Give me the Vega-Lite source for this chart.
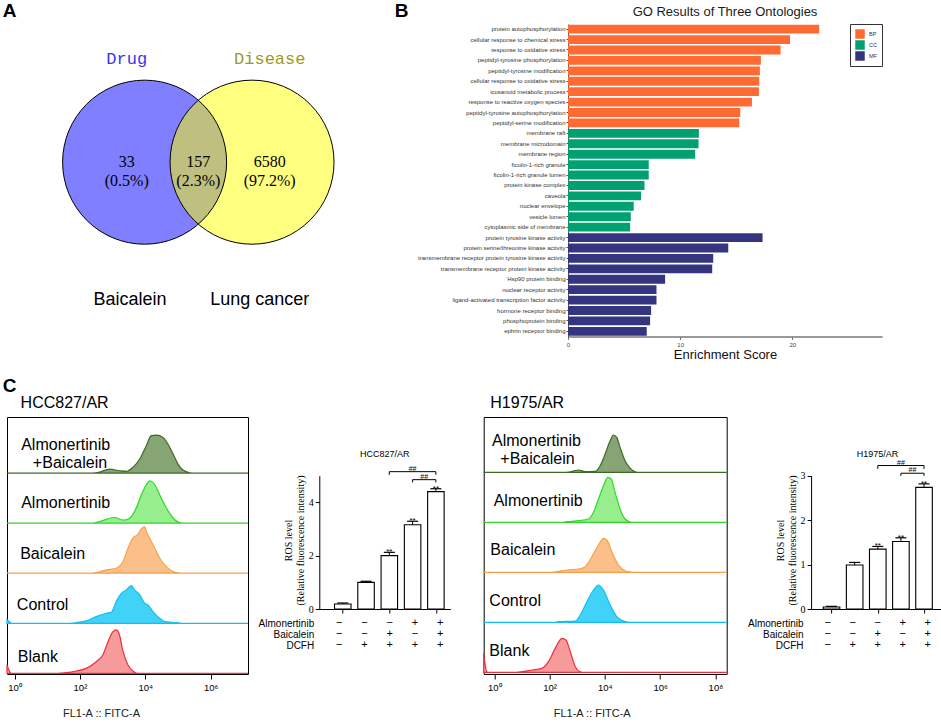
{
 "$schema": "https://vega.github.io/schema/vega-lite/v6.json",
 "background": "white",
 "padding": {"left": 2, "top": 1, "right": 0, "bottom": 0},
 "config": {"view": {"stroke": null}, "font": "Liberation Sans", "axis": {"grid": false}, "text": {"font": "Liberation Sans"}},
 "datasets": {
  "venn_sets": [{"set": "Drug", "cx": -0.655, "cy": 0}, {"set": "Disease", "cx": 0.655, "cy": 0}],
  "venn_text": [
   {"label": "Drug", "x": -0.873, "y": 1.262, "style": "drug"},
   {"label": "Disease", "x": 0.871, "y": 1.262, "style": "disease"},
   {"label": "33\n(0.5%)", "x": -0.873, "y": 0, "style": "num"},
   {"label": "157\n(2.3%)", "x": 0, "y": 0, "style": "num"},
   {"label": "6580\n(97.2%)", "x": 0.87, "y": 0, "style": "num"},
   {"label": "Baicalein", "x": -0.833, "y": -1.68, "style": "name"},
   {"label": "Lung cancer", "x": 0.749, "y": -1.68, "style": "name"},
   {"label": "A", "x": -2.302, "y": 1.844, "style": "panel"},
   {"label": "B", "x": 2.478, "y": 1.844, "style": "panel"},
   {"label": "C", "x": -2.302, "y": -2.729, "style": "panel"}
  ],
  "go": [
   {"term": "protein autophosphorylation", "ontology": "BP", "score": 22.4},
   {"term": "cellular response to chemical stress", "ontology": "BP", "score": 19.8},
   {"term": "response to oxidative stress", "ontology": "BP", "score": 18.96},
   {"term": "peptidyl-tyrosine phosphorylation", "ontology": "BP", "score": 17.2},
   {"term": "peptidyl-tyrosine modification", "ontology": "BP", "score": 17.11},
   {"term": "cellular response to oxidative stress", "ontology": "BP", "score": 17.05},
   {"term": "icosanoid metabolic process", "ontology": "BP", "score": 17.02},
   {"term": "response to reactive oxygen species", "ontology": "BP", "score": 16.4},
   {"term": "peptidyl-tyrosine autophosphorylation", "ontology": "BP", "score": 15.36},
   {"term": "peptidyl-serine modification", "ontology": "BP", "score": 15.27},
   {"term": "membrane raft", "ontology": "CC", "score": 11.67},
   {"term": "membrane microdomain", "ontology": "CC", "score": 11.64},
   {"term": "membrane region", "ontology": "CC", "score": 11.34},
   {"term": "ficolin-1-rich granule", "ontology": "CC", "score": 7.2},
   {"term": "ficolin-1-rich granule lumen", "ontology": "CC", "score": 7.2},
   {"term": "protein kinase complex", "ontology": "CC", "score": 6.82},
   {"term": "caveola", "ontology": "CC", "score": 6.52},
   {"term": "nuclear envelope", "ontology": "CC", "score": 5.86},
   {"term": "vesicle lumen", "ontology": "CC", "score": 5.6},
   {"term": "cytoplasmic side of membrane", "ontology": "CC", "score": 5.54},
   {"term": "protein tyrosine kinase activity", "ontology": "MF", "score": 17.35},
   {"term": "protein serine/threonine kinase activity", "ontology": "MF", "score": 14.29},
   {"term": "transmembrane receptor protein tyrosine kinase activity", "ontology": "MF", "score": 12.95},
   {"term": "transmembrane receptor protein kinase activity", "ontology": "MF", "score": 12.86},
   {"term": "Hsp90 protein binding", "ontology": "MF", "score": 8.66},
   {"term": "nuclear receptor activity", "ontology": "MF", "score": 7.89},
   {"term": "ligand-activated transcription factor activity", "ontology": "MF", "score": 7.89},
   {"term": "hormone receptor binding", "ontology": "MF", "score": 7.41},
   {"term": "phosphoprotein binding", "ontology": "MF", "score": 7.32},
   {"term": "ephrin receptor binding", "ontology": "MF", "score": 7.02}
  ],
  "hist1": [
   {"sample": "Blank", "log_fl": -0.23, "count": 0.17}, {"sample": "Blank", "log_fl": -0.16, "count": 0.05}, {"sample": "Blank", "log_fl": -0.1, "count": 0}, {"sample": "Blank", "log_fl": 1.3, "count": 0}, {"sample": "Blank", "log_fl": 1.58, "count": 0.013}, {"sample": "Blank", "log_fl": 1.89, "count": 0.047}, {"sample": "Blank", "log_fl": 2.19, "count": 0.1}, {"sample": "Blank", "log_fl": 2.5, "count": 0.233}, {"sample": "Blank", "log_fl": 2.7, "count": 0.367}, {"sample": "Blank", "log_fl": 2.86, "count": 0.633}, {"sample": "Blank", "log_fl": 3.01, "count": 0.833}, {"sample": "Blank", "log_fl": 3.11, "count": 0.867}, {"sample": "Blank", "log_fl": 3.21, "count": 0.767}, {"sample": "Blank", "log_fl": 3.32, "count": 0.433}, {"sample": "Blank", "log_fl": 3.47, "count": 0.167}, {"sample": "Blank", "log_fl": 3.62, "count": 0.047}, {"sample": "Blank", "log_fl": 3.72, "count": 0.007}, {"sample": "Blank", "log_fl": 3.85, "count": 0}, {"sample": "Blank", "log_fl": 7.14, "count": 0},
   {"sample": "Control", "log_fl": -0.23, "count": 0.07}, {"sample": "Control", "log_fl": -0.15, "count": 0.03}, {"sample": "Control", "log_fl": -0.08, "count": 0}, {"sample": "Control", "log_fl": 1.7, "count": 0}, {"sample": "Control", "log_fl": 1.89, "count": 0.013}, {"sample": "Control", "log_fl": 2.19, "count": 0.047}, {"sample": "Control", "log_fl": 2.5, "count": 0.133}, {"sample": "Control", "log_fl": 2.81, "count": 0.2}, {"sample": "Control", "log_fl": 2.96, "count": 0.22}, {"sample": "Control", "log_fl": 3.11, "count": 0.433}, {"sample": "Control", "log_fl": 3.27, "count": 0.6}, {"sample": "Control", "log_fl": 3.42, "count": 0.667}, {"sample": "Control", "log_fl": 3.57, "count": 0.753}, {"sample": "Control", "log_fl": 3.67, "count": 0.667}, {"sample": "Control", "log_fl": 3.83, "count": 0.567}, {"sample": "Control", "log_fl": 3.98, "count": 0.4}, {"sample": "Control", "log_fl": 4.08, "count": 0.367}, {"sample": "Control", "log_fl": 4.23, "count": 0.233}, {"sample": "Control", "log_fl": 4.44, "count": 0.1}, {"sample": "Control", "log_fl": 4.59, "count": 0.033}, {"sample": "Control", "log_fl": 4.95, "count": 0.013}, {"sample": "Control", "log_fl": 5.1, "count": 0}, {"sample": "Control", "log_fl": 7.14, "count": 0},
   {"sample": "Baicalein", "log_fl": -0.23, "count": 0}, {"sample": "Baicalein", "log_fl": 2.3, "count": 0}, {"sample": "Baicalein", "log_fl": 2.5, "count": 0.013}, {"sample": "Baicalein", "log_fl": 2.81, "count": 0.067}, {"sample": "Baicalein", "log_fl": 3.11, "count": 0.1}, {"sample": "Baicalein", "log_fl": 3.32, "count": 0.233}, {"sample": "Baicalein", "log_fl": 3.47, "count": 0.5}, {"sample": "Baicalein", "log_fl": 3.62, "count": 0.7}, {"sample": "Baicalein", "log_fl": 3.78, "count": 0.78}, {"sample": "Baicalein", "log_fl": 3.88, "count": 0.887}, {"sample": "Baicalein", "log_fl": 3.98, "count": 0.927}, {"sample": "Baicalein", "log_fl": 4.03, "count": 0.833}, {"sample": "Baicalein", "log_fl": 4.13, "count": 0.7}, {"sample": "Baicalein", "log_fl": 4.29, "count": 0.5}, {"sample": "Baicalein", "log_fl": 4.44, "count": 0.3}, {"sample": "Baicalein", "log_fl": 4.64, "count": 0.133}, {"sample": "Baicalein", "log_fl": 4.85, "count": 0.033}, {"sample": "Baicalein", "log_fl": 5.0, "count": 0.007}, {"sample": "Baicalein", "log_fl": 5.15, "count": 0}, {"sample": "Baicalein", "log_fl": 7.14, "count": 0},
   {"sample": "Almonertinib", "log_fl": -0.23, "count": 0}, {"sample": "Almonertinib", "log_fl": 2.4, "count": 0}, {"sample": "Almonertinib", "log_fl": 2.6, "count": 0.033}, {"sample": "Almonertinib", "log_fl": 3.06, "count": 0.113}, {"sample": "Almonertinib", "log_fl": 3.32, "count": 0.06}, {"sample": "Almonertinib", "log_fl": 3.52, "count": 0.1}, {"sample": "Almonertinib", "log_fl": 3.72, "count": 0.3}, {"sample": "Almonertinib", "log_fl": 3.88, "count": 0.567}, {"sample": "Almonertinib", "log_fl": 4.03, "count": 0.767}, {"sample": "Almonertinib", "log_fl": 4.13, "count": 0.847}, {"sample": "Almonertinib", "log_fl": 4.29, "count": 0.767}, {"sample": "Almonertinib", "log_fl": 4.44, "count": 0.567}, {"sample": "Almonertinib", "log_fl": 4.59, "count": 0.367}, {"sample": "Almonertinib", "log_fl": 4.74, "count": 0.2}, {"sample": "Almonertinib", "log_fl": 4.9, "count": 0.067}, {"sample": "Almonertinib", "log_fl": 5.05, "count": 0.013}, {"sample": "Almonertinib", "log_fl": 5.2, "count": 0}, {"sample": "Almonertinib", "log_fl": 7.14, "count": 0},
   {"sample": "Almonertinib+Baicalein", "log_fl": -0.23, "count": 0}, {"sample": "Almonertinib+Baicalein", "log_fl": 2.4, "count": 0}, {"sample": "Almonertinib+Baicalein", "log_fl": 2.6, "count": 0.02}, {"sample": "Almonertinib+Baicalein", "log_fl": 2.91, "count": 0.08}, {"sample": "Almonertinib+Baicalein", "log_fl": 3.21, "count": 0.047}, {"sample": "Almonertinib+Baicalein", "log_fl": 3.42, "count": 0.033}, {"sample": "Almonertinib+Baicalein", "log_fl": 3.62, "count": 0.113}, {"sample": "Almonertinib+Baicalein", "log_fl": 3.83, "count": 0.28}, {"sample": "Almonertinib+Baicalein", "log_fl": 4.03, "count": 0.547}, {"sample": "Almonertinib+Baicalein", "log_fl": 4.18, "count": 0.747}, {"sample": "Almonertinib+Baicalein", "log_fl": 4.34, "count": 0.76}, {"sample": "Almonertinib+Baicalein", "log_fl": 4.54, "count": 0.713}, {"sample": "Almonertinib+Baicalein", "log_fl": 4.69, "count": 0.58}, {"sample": "Almonertinib+Baicalein", "log_fl": 4.85, "count": 0.38}, {"sample": "Almonertinib+Baicalein", "log_fl": 5.0, "count": 0.18}, {"sample": "Almonertinib+Baicalein", "log_fl": 5.15, "count": 0.06}, {"sample": "Almonertinib+Baicalein", "log_fl": 5.36, "count": 0.007}, {"sample": "Almonertinib+Baicalein", "log_fl": 5.5, "count": 0}, {"sample": "Almonertinib+Baicalein", "log_fl": 7.14, "count": 0}
  ],
  "hist1_labels": [
   {"label": "Almonertinib", "log_fl": 0.204, "row": 4.567},
   {"label": "+Baicalein", "log_fl": 0.561, "row": 4.2},
   {"label": "Almonertinib", "log_fl": 0.204, "row": 3.4},
   {"label": "Baicalein", "log_fl": 0.173, "row": 2.38},
   {"label": "Control", "log_fl": 0.071, "row": 1.367},
   {"label": "Blank", "log_fl": 0.102, "row": 0.333}
  ],
  "hist2": [
   {"sample": "Blank", "log_fl": -0.386, "count": 0.38}, {"sample": "Blank", "log_fl": -0.3, "count": 0.05}, {"sample": "Blank", "log_fl": -0.24, "count": 0}, {"sample": "Blank", "log_fl": 0.8, "count": 0}, {"sample": "Blank", "log_fl": 1.0, "count": 0.013}, {"sample": "Blank", "log_fl": 1.36, "count": 0.047}, {"sample": "Blank", "log_fl": 1.72, "count": 0.08}, {"sample": "Blank", "log_fl": 1.96, "count": 0.213}, {"sample": "Blank", "log_fl": 2.2, "count": 0.48}, {"sample": "Blank", "log_fl": 2.45, "count": 0.68}, {"sample": "Blank", "log_fl": 2.59, "count": 0.647}, {"sample": "Blank", "log_fl": 2.75, "count": 0.413}, {"sample": "Blank", "log_fl": 2.93, "count": 0.113}, {"sample": "Blank", "log_fl": 3.11, "count": 0.013}, {"sample": "Blank", "log_fl": 3.25, "count": 0}, {"sample": "Blank", "log_fl": 8.41, "count": 0},
   {"sample": "Control", "log_fl": -0.386, "count": 0}, {"sample": "Control", "log_fl": 2.15, "count": 0}, {"sample": "Control", "log_fl": 2.33, "count": 0.013}, {"sample": "Control", "log_fl": 2.93, "count": 0.027}, {"sample": "Control", "log_fl": 3.11, "count": 0.147}, {"sample": "Control", "log_fl": 3.35, "count": 0.413}, {"sample": "Control", "log_fl": 3.59, "count": 0.647}, {"sample": "Control", "log_fl": 3.77, "count": 0.747}, {"sample": "Control", "log_fl": 3.95, "count": 0.647}, {"sample": "Control", "log_fl": 4.19, "count": 0.347}, {"sample": "Control", "log_fl": 4.43, "count": 0.113}, {"sample": "Control", "log_fl": 4.73, "count": 0.013}, {"sample": "Control", "log_fl": 4.9, "count": 0}, {"sample": "Control", "log_fl": 8.41, "count": 0},
   {"sample": "Baicalein", "log_fl": -0.386, "count": 0}, {"sample": "Baicalein", "log_fl": 2.1, "count": 0}, {"sample": "Baicalein", "log_fl": 2.27, "count": 0.013}, {"sample": "Baicalein", "log_fl": 2.63, "count": 0.047}, {"sample": "Baicalein", "log_fl": 3.05, "count": 0.067}, {"sample": "Baicalein", "log_fl": 3.29, "count": 0.113}, {"sample": "Baicalein", "log_fl": 3.53, "count": 0.313}, {"sample": "Baicalein", "log_fl": 3.77, "count": 0.547}, {"sample": "Baicalein", "log_fl": 3.95, "count": 0.68}, {"sample": "Baicalein", "log_fl": 4.07, "count": 0.647}, {"sample": "Baicalein", "log_fl": 4.25, "count": 0.413}, {"sample": "Baicalein", "log_fl": 4.49, "count": 0.147}, {"sample": "Baicalein", "log_fl": 4.73, "count": 0.033}, {"sample": "Baicalein", "log_fl": 4.95, "count": 0.007}, {"sample": "Baicalein", "log_fl": 5.1, "count": 0}, {"sample": "Baicalein", "log_fl": 8.41, "count": 0},
   {"sample": "Almonertinib", "log_fl": -0.386, "count": 0}, {"sample": "Almonertinib", "log_fl": 2.45, "count": 0}, {"sample": "Almonertinib", "log_fl": 2.63, "count": 0.013}, {"sample": "Almonertinib", "log_fl": 3.05, "count": 0.033}, {"sample": "Almonertinib", "log_fl": 3.41, "count": 0.067}, {"sample": "Almonertinib", "log_fl": 3.59, "count": 0.2}, {"sample": "Almonertinib", "log_fl": 3.77, "count": 0.467}, {"sample": "Almonertinib", "log_fl": 3.95, "count": 0.733}, {"sample": "Almonertinib", "log_fl": 4.11, "count": 0.9}, {"sample": "Almonertinib", "log_fl": 4.23, "count": 0.867}, {"sample": "Almonertinib", "log_fl": 4.37, "count": 0.6}, {"sample": "Almonertinib", "log_fl": 4.55, "count": 0.267}, {"sample": "Almonertinib", "log_fl": 4.73, "count": 0.067}, {"sample": "Almonertinib", "log_fl": 4.92, "count": 0.007}, {"sample": "Almonertinib", "log_fl": 5.05, "count": 0}, {"sample": "Almonertinib", "log_fl": 8.41, "count": 0},
   {"sample": "Almonertinib+Baicalein", "log_fl": -0.386, "count": 0}, {"sample": "Almonertinib+Baicalein", "log_fl": 2.5, "count": 0}, {"sample": "Almonertinib+Baicalein", "log_fl": 2.69, "count": 0.007}, {"sample": "Almonertinib+Baicalein", "log_fl": 3.05, "count": 0.047}, {"sample": "Almonertinib+Baicalein", "log_fl": 3.29, "count": 0.013}, {"sample": "Almonertinib+Baicalein", "log_fl": 3.65, "count": 0.02}, {"sample": "Almonertinib+Baicalein", "log_fl": 3.83, "count": 0.133}, {"sample": "Almonertinib+Baicalein", "log_fl": 4.01, "count": 0.367}, {"sample": "Almonertinib+Baicalein", "log_fl": 4.19, "count": 0.633}, {"sample": "Almonertinib+Baicalein", "log_fl": 4.31, "count": 0.747}, {"sample": "Almonertinib+Baicalein", "log_fl": 4.43, "count": 0.7}, {"sample": "Almonertinib+Baicalein", "log_fl": 4.55, "count": 0.5}, {"sample": "Almonertinib+Baicalein", "log_fl": 4.73, "count": 0.233}, {"sample": "Almonertinib+Baicalein", "log_fl": 4.92, "count": 0.08}, {"sample": "Almonertinib+Baicalein", "log_fl": 5.1, "count": 0.013}, {"sample": "Almonertinib+Baicalein", "log_fl": 5.25, "count": 0}, {"sample": "Almonertinib+Baicalein", "log_fl": 8.41, "count": 0}
  ],
  "hist2_labels": [
   {"label": "Almonertinib", "log_fl": -0.084, "row": 4.633},
   {"label": "+Baicalein", "log_fl": 0.217, "row": 4.267},
   {"label": "Almonertinib", "log_fl": -0.024, "row": 3.433},
   {"label": "Baicalein", "log_fl": -0.145, "row": 2.447},
   {"label": "Control", "log_fl": -0.181, "row": 1.433},
   {"label": "Blank", "log_fl": -0.181, "row": 0.433}
  ],
  "ros1": [
   {"pos": 1, "Almonertinib": "−", "Baicalein": "−", "DCFH": "−", "mean": 0.19, "upper": 0.225, "sig": ""},
   {"pos": 2, "Almonertinib": "−", "Baicalein": "−", "DCFH": "+", "mean": 1.0, "upper": 1.04, "sig": ""},
   {"pos": 3, "Almonertinib": "−", "Baicalein": "+", "DCFH": "+", "mean": 2.0, "upper": 2.125, "sig": "**"},
   {"pos": 4, "Almonertinib": "+", "Baicalein": "−", "DCFH": "+", "mean": 3.16, "upper": 3.29, "sig": "**"},
   {"pos": 5, "Almonertinib": "+", "Baicalein": "+", "DCFH": "+", "mean": 4.4, "upper": 4.51, "sig": "**"}
  ],
  "ros1_brackets": [
   {"from": 3, "to": 5, "mid": 4, "y": 5.15, "drop": 5.03, "label": "##"},
   {"from": 4, "to": 5, "mid": 4.5, "y": 4.85, "drop": 4.75, "label": "##"}
  ],
  "ros2": [
   {"pos": 1, "Almonertinib": "−", "Baicalein": "−", "DCFH": "−", "mean": 0.045, "upper": 0.06, "sig": ""},
   {"pos": 2, "Almonertinib": "−", "Baicalein": "−", "DCFH": "+", "mean": 0.99, "upper": 1.05, "sig": ""},
   {"pos": 3, "Almonertinib": "−", "Baicalein": "+", "DCFH": "+", "mean": 1.35, "upper": 1.41, "sig": "**"},
   {"pos": 4, "Almonertinib": "+", "Baicalein": "−", "DCFH": "+", "mean": 1.52, "upper": 1.605, "sig": "**"},
   {"pos": 5, "Almonertinib": "+", "Baicalein": "+", "DCFH": "+", "mean": 2.74, "upper": 2.82, "sig": "**"}
  ],
  "ros2_brackets": [
   {"from": 3, "to": 5, "mid": 4, "y": 3.233, "drop": 3.158, "label": "##"},
   {"from": 4, "to": 5, "mid": 4.5, "y": 3.06, "drop": 3.0, "label": "##"}
  ]
 },
 "spacing": -2,
 "vconcat": [
  {"hconcat": [
   {"width": 402, "height": 370,
    "layer": [
     {"data": {"name": "venn_sets"},
      "mark": {"type": "point", "shape": "circle", "filled": true, "size": 26896, "opacity": 1, "fillOpacity": 0.5, "strokeWidth": 0},
      "encoding": {
       "x": {"field": "cx", "type": "quantitative", "scale": {"domain": [-2.333, 2.569], "nice": false, "zero": false}, "axis": null},
       "y": {"field": "cy", "type": "quantitative", "scale": {"domain": [-2.827, 1.685], "nice": false, "zero": false}, "axis": null},
       "fill": {"field": "set", "type": "nominal", "scale": {"domain": ["Drug", "Disease"], "range": ["#0000FF", "#FFFF00"]}, "legend": null}}},
     {"data": {"name": "venn_sets"},
      "mark": {"type": "point", "shape": "circle", "filled": false, "size": 26896, "opacity": 1, "stroke": "#000000", "strokeWidth": 1},
      "encoding": {
       "x": {"field": "cx", "type": "quantitative", "scale": {"domain": [-2.333, 2.569], "nice": false, "zero": false}, "axis": null},
       "y": {"field": "cy", "type": "quantitative", "scale": {"domain": [-2.827, 1.685], "nice": false, "zero": false}, "axis": null}}},
     {"data": {"name": "venn_text"}, "transform": [{"filter": "datum.style == 'drug'"}],
      "mark": {"type": "text", "font": "Liberation Mono", "fontSize": 17, "color": "#3535F5"},
      "encoding": {"x": {"field": "x", "type": "quantitative", "scale": {"domain": [-2.333, 2.569], "nice": false, "zero": false}, "axis": null}, "y": {"field": "y", "type": "quantitative", "scale": {"domain": [-2.827, 1.685], "nice": false, "zero": false}, "axis": null}, "text": {"field": "label"}}},
     {"data": {"name": "venn_text"}, "transform": [{"filter": "datum.style == 'disease'"}],
      "mark": {"type": "text", "font": "Liberation Mono", "fontSize": 17, "color": "#9A9A1E"},
      "encoding": {"x": {"field": "x", "type": "quantitative", "scale": {"domain": [-2.333, 2.569], "nice": false, "zero": false}, "axis": null}, "y": {"field": "y", "type": "quantitative", "scale": {"domain": [-2.827, 1.685], "nice": false, "zero": false}, "axis": null}, "text": {"field": "label"}}},
     {"data": {"name": "venn_text"}, "transform": [{"filter": "datum.style == 'num'"}],
      "mark": {"type": "text", "font": "Liberation Serif", "fontSize": 16, "color": "#000000", "lineBreak": "\n", "lineHeight": 19, "baseline": "middle"},
      "encoding": {"x": {"field": "x", "type": "quantitative", "scale": {"domain": [-2.333, 2.569], "nice": false, "zero": false}, "axis": null}, "y": {"field": "y", "type": "quantitative", "scale": {"domain": [-2.827, 1.685], "nice": false, "zero": false}, "axis": null}, "text": {"field": "label"}}},
     {"data": {"name": "venn_text"}, "transform": [{"filter": "datum.style == 'name'"}],
      "mark": {"type": "text", "font": "Liberation Sans", "fontSize": 18, "color": "#000000"},
      "encoding": {"x": {"field": "x", "type": "quantitative", "scale": {"domain": [-2.333, 2.569], "nice": false, "zero": false}, "axis": null}, "y": {"field": "y", "type": "quantitative", "scale": {"domain": [-2.827, 1.685], "nice": false, "zero": false}, "axis": null}, "text": {"field": "label"}}},
     {"data": {"name": "venn_text"}, "transform": [{"filter": "datum.style == 'panel'"}],
      "mark": {"type": "text", "font": "Liberation Sans", "fontSize": 19, "fontWeight": "bold", "color": "#000000"},
      "encoding": {"x": {"field": "x", "type": "quantitative", "scale": {"domain": [-2.333, 2.569], "nice": false, "zero": false}, "axis": null}, "y": {"field": "y", "type": "quantitative", "scale": {"domain": [-2.827, 1.685], "nice": false, "zero": false}, "axis": null}, "text": {"field": "label"}}}
    ]},
   {"width": 314, "height": 312.5,
    "data": {"name": "go"},
    "title": {"text": "GO Results of Three Ontologies", "fontSize": 13, "fontWeight": "normal", "color": "#1a1a1a", "anchor": "middle", "offset": 5, "font": "Liberation Sans"},
    "mark": {"type": "bar"},
    "encoding": {
     "y": {"field": "term", "type": "nominal", "sort": null, "scale": {"paddingInner": 0.15, "paddingOuter": 0.07},
      "axis": {"title": null, "labelFontSize": 6, "labelColor": "#333333", "labelPadding": 1, "tickSize": 2, "tickColor": "#555555", "domainColor": "#555555", "labelLimit": 400}},
     "x": {"field": "score", "type": "quantitative", "scale": {"domain": [0, 28], "nice": false},
      "axis": {"title": "Enrichment Score", "titleFontSize": 13, "titleFontWeight": "normal", "titleColor": "#111111", "titlePadding": 1, "values": [0, 10, 20], "labelFontSize": 6, "labelColor": "#444444", "labelFlush": false, "tickSize": 3, "tickColor": "#777777", "domainColor": "#777777", "domainWidth": 1.5, "labelPadding": 2}},
     "color": {"field": "ontology", "type": "nominal", "scale": {"domain": ["BP", "CC", "MF"], "range": ["#FF6A33", "#00A070", "#34347F"]},
      "legend": {"title": null, "orient": "none", "legendX": 843, "legendY": 0, "strokeColor": "#333333", "padding": 5, "symbolType": "square", "symbolSize": 90, "symbolStrokeWidth": 0, "labelFontSize": 5.5, "labelColor": "#333333", "rowPadding": 1, "labelOffset": 4}}
    }}
  ], "spacing": 8},
  {"hconcat": [
   {"hconcat": [
    {"width": 241, "height": 257,
     "view": {"stroke": "#000000", "strokeWidth": 1},
     "title": {"text": "HCC827/AR", "anchor": "start", "dx": 16, "fontSize": 16, "fontWeight": "normal", "color": "#000000", "baseline": "alphabetic", "offset": -7, "font": "Liberation Sans"},
     "resolve": {"scale": {"y": "independent"}},
     "layer": [
      {"data": {"name": "hist1"}, "transform": [{"filter": "datum.sample == 'Blank'"}],
       "mark": {"type": "area", "interpolate": "monotone", "fill": "#F69A9C", "stroke": "#EC2F3D", "strokeWidth": 1.2},
       "encoding": {
        "x": {"field": "log_fl", "type": "quantitative", "scale": {"domain": [-0.23, 7.14], "nice": false, "zero": false},
         "axis": {"title": "FL1-A :: FITC-A", "titleFontSize": 11, "titleFontWeight": "normal", "titleColor": "#222222", "titlePadding": 16, "titleX": 94, "domain": false,
          "values": [0, 1, 2, 3, 4, 5, 6, 7],
          "labelExpr": "datum.value == 0 ? '10\u2070' : datum.value == 2 ? '10\u00b2' : datum.value == 4 ? '10\u2074' : datum.value == 6 ? '10\u2076' : datum.value == 8 ? '10\u2078' : ''",
          "labelFontSize": 9.5, "labelColor": "#000000", "labelPadding": 3, "labelOverlap": false, "labelFlush": false, "tickColor": "#000000", "tickWidth": 1, "tickSize": 5}},
        "y": {"field": "count", "type": "quantitative", "scale": {"domain": [-0.013, 5.12], "nice": false, "zero": false}, "axis": null},
        "y2": {"datum": 0}}},
      {"data": {"name": "hist1"}, "transform": [{"filter": "datum.sample == 'Control'"}],
       "mark": {"type": "area", "interpolate": "monotone", "fill": "#41D2F8", "stroke": "#0FC0F0", "strokeWidth": 1.2},
       "encoding": {
        "x": {"field": "log_fl", "type": "quantitative", "scale": {"domain": [-0.23, 7.14], "nice": false, "zero": false}},
        "y": {"field": "count", "type": "quantitative", "scale": {"domain": [-1.013, 4.12], "nice": false, "zero": false}, "axis": null},
        "y2": {"datum": 0}}},
      {"data": {"name": "hist1"}, "transform": [{"filter": "datum.sample == 'Baicalein'"}],
       "mark": {"type": "area", "interpolate": "monotone", "fill": "#FBC08A", "stroke": "#F8A048", "strokeWidth": 1.2},
       "encoding": {
        "x": {"field": "log_fl", "type": "quantitative", "scale": {"domain": [-0.23, 7.14], "nice": false, "zero": false}},
        "y": {"field": "count", "type": "quantitative", "scale": {"domain": [-2.013, 3.12], "nice": false, "zero": false}, "axis": null},
        "y2": {"datum": 0}}},
      {"data": {"name": "hist1"}, "transform": [{"filter": "datum.sample == 'Almonertinib'"}],
       "mark": {"type": "area", "interpolate": "monotone", "fill": "#97EE8C", "stroke": "#2ED829", "strokeWidth": 1.2},
       "encoding": {
        "x": {"field": "log_fl", "type": "quantitative", "scale": {"domain": [-0.23, 7.14], "nice": false, "zero": false}},
        "y": {"field": "count", "type": "quantitative", "scale": {"domain": [-3.013, 2.12], "nice": false, "zero": false}, "axis": null},
        "y2": {"datum": 0}}},
      {"data": {"name": "hist1"}, "transform": [{"filter": "datum.sample == 'Almonertinib+Baicalein'"}],
       "mark": {"type": "area", "interpolate": "monotone", "fill": "#86A474", "stroke": "#3D6B26", "strokeWidth": 1.2},
       "encoding": {
        "x": {"field": "log_fl", "type": "quantitative", "scale": {"domain": [-0.23, 7.14], "nice": false, "zero": false}},
        "y": {"field": "count", "type": "quantitative", "scale": {"domain": [-4.013, 1.12], "nice": false, "zero": false}, "axis": null},
        "y2": {"datum": 0}}},
      {"data": {"name": "hist1_labels"},
       "mark": {"type": "text", "align": "left", "baseline": "middle", "fontSize": 16, "font": "Liberation Sans", "color": "#000000"},
       "encoding": {
        "x": {"field": "log_fl", "type": "quantitative", "scale": {"domain": [-0.23, 7.14], "nice": false, "zero": false}},
        "y": {"field": "row", "type": "quantitative", "scale": {"domain": [-0.013, 5.12], "nice": false, "zero": false}, "axis": null},
        "text": {"field": "label"}}}
     ]},
    {"vconcat": [
     {"width": 131, "height": 192,
      "title": {"text": "HCC827/AR", "fontSize": 9, "fontWeight": "normal", "color": "#000000", "anchor": "middle", "baseline": "alphabetic", "offset": -48.5, "font": "Liberation Sans"},
      "layer": [
       {"data": {"name": "ros1"}, "mark": {"type": "rule", "color": "#000000", "strokeWidth": 1},
        "encoding": {
         "x": {"field": "pos", "type": "quantitative", "scale": {"domain": [0.206, 5.405], "nice": false, "zero": false},
          "axis": {"title": null, "values": [1, 2, 3, 4, 5], "labels": false, "tickSize": 4, "tickColor": "#000000", "domainColor": "#000000"}},
         "y": {"field": "mean", "type": "quantitative", "scale": {"domain": [0, 7.2], "nice": false, "zero": false},
          "axis": {"title": ["ROS level", "(Relative fluorescence intensity)"], "titleFont": "Liberation Serif", "titleFontSize": 10, "titleFontWeight": "normal", "titleColor": "#000000", "titleLineHeight": 12, "titleY": 123, "titlePadding": 3,
           "values": [0, 1, 2, 3, 4, 5], "labelFont": "Liberation Serif", "labelFontSize": 10, "labelColor": "#000000", "labelPadding": 2, "tickSize": 4, "tickColor": "#000000", "domainColor": "#000000", "domainDash": [133.3, 200]}},
         "y2": {"field": "upper"}}},
       {"data": {"name": "ros1"}, "mark": {"type": "tick", "orient": "horizontal", "size": 11, "thickness": 1.2, "color": "#000000", "opacity": 1},
        "encoding": {
         "x": {"field": "pos", "type": "quantitative", "scale": {"domain": [0.206, 5.405], "nice": false, "zero": false}},
         "y": {"field": "upper", "type": "quantitative", "scale": {"domain": [0, 7.2], "nice": false, "zero": false}}}},
       {"data": {"name": "ros1"}, "mark": {"type": "bar", "size": 16.5, "stroke": "#000000", "strokeWidth": 1.1, "orient": "vertical"},
        "encoding": {
         "x": {"field": "pos", "type": "quantitative", "scale": {"domain": [0.206, 5.405], "nice": false, "zero": false}},
         "y": {"field": "mean", "type": "quantitative", "scale": {"domain": [0, 7.2], "nice": false, "zero": false}},
         "y2": {"datum": 0},
         "fill": {"field": "pos", "type": "nominal", "scale": {"range": ["#FFFFFF", "#2B2B2B", "#D4D4D4", "#D4D4D4", "#5E5E5E"]}, "legend": null}}},
       {"data": {"name": "ros1"}, "mark": {"type": "text", "fontSize": 8, "baseline": "alphabetic", "dy": 2, "color": "#000000"},
        "encoding": {
         "x": {"field": "pos", "type": "quantitative", "scale": {"domain": [0.206, 5.405], "nice": false, "zero": false}},
         "y": {"field": "upper", "type": "quantitative", "scale": {"domain": [0, 7.2], "nice": false, "zero": false}},
         "text": {"field": "sig"}}},
       {"data": {"name": "ros1_brackets"}, "mark": {"type": "rule", "color": "#000000", "strokeWidth": 1},
        "encoding": {
         "x": {"field": "from", "type": "quantitative", "scale": {"domain": [0.206, 5.405], "nice": false, "zero": false}},
         "x2": {"field": "to"},
         "y": {"field": "y", "type": "quantitative", "scale": {"domain": [0, 7.2], "nice": false, "zero": false}}}},
       {"data": {"name": "ros1_brackets"}, "mark": {"type": "rule", "color": "#000000", "strokeWidth": 1},
        "encoding": {
         "x": {"field": "from", "type": "quantitative", "scale": {"domain": [0.206, 5.405], "nice": false, "zero": false}},
         "y": {"field": "y", "type": "quantitative", "scale": {"domain": [0, 7.2], "nice": false, "zero": false}},
         "y2": {"field": "drop"}}},
       {"data": {"name": "ros1_brackets"}, "mark": {"type": "rule", "color": "#000000", "strokeWidth": 1},
        "encoding": {
         "x": {"field": "to", "type": "quantitative", "scale": {"domain": [0.206, 5.405], "nice": false, "zero": false}},
         "y": {"field": "y", "type": "quantitative", "scale": {"domain": [0, 7.2], "nice": false, "zero": false}},
         "y2": {"field": "drop"}}},
       {"data": {"name": "ros1_brackets"}, "mark": {"type": "text", "fontSize": 7, "baseline": "alphabetic", "dy": -1, "color": "#000000"},
        "encoding": {
         "x": {"field": "mid", "type": "quantitative", "scale": {"domain": [0.206, 5.405], "nice": false, "zero": false}},
         "y": {"field": "y", "type": "quantitative", "scale": {"domain": [0, 7.2], "nice": false, "zero": false}},
         "text": {"field": "label"}}}
      ]},
     {"width": 131, "height": 32.4,
      "data": {"name": "ros1"},
      "transform": [{"fold": ["Almonertinib", "Baicalein", "DCFH"], "as": ["factor", "sign"]}],
      "mark": {"type": "text", "fontSize": 11, "font": "Liberation Sans", "color": "#000000"},
      "encoding": {
       "x": {"field": "pos", "type": "quantitative", "scale": {"domain": [0.206, 5.405], "nice": false, "zero": false}, "axis": null},
       "y": {"field": "factor", "type": "nominal", "sort": ["Almonertinib", "Baicalein", "DCFH"], "scale": {"type": "point", "padding": 0.5},
        "axis": {"title": null, "domain": false, "ticks": false, "labelFontSize": 10, "labelColor": "#000000", "labelPadding": 5.6, "labelFont": "Liberation Sans"}},
       "text": {"field": "sign"}}}
    ], "spacing": 3}
   ], "spacing": 6.3},
   {"hconcat": [
    {"width": 243, "height": 257,
     "view": {"stroke": "#000000", "strokeWidth": 1},
     "title": {"text": "H1975/AR", "anchor": "start", "dx": 9, "fontSize": 16, "fontWeight": "normal", "color": "#000000", "baseline": "alphabetic", "offset": -7, "font": "Liberation Sans"},
     "resolve": {"scale": {"y": "independent"}},
     "layer": [
      {"data": {"name": "hist2"}, "transform": [{"filter": "datum.sample == 'Blank'"}],
       "mark": {"type": "area", "interpolate": "monotone", "fill": "#F69A9C", "stroke": "#EC2F3D", "strokeWidth": 1.2},
       "encoding": {
        "x": {"field": "log_fl", "type": "quantitative", "scale": {"domain": [-0.386, 8.41], "nice": false, "zero": false},
         "axis": {"title": "FL1-A :: FITC-A", "titleFontSize": 11, "titleFontWeight": "normal", "titleColor": "#222222", "titlePadding": 16, "titleX": 108, "domain": false,
          "values": [0, 1, 2, 3, 4, 5, 6, 7, 8],
          "labelExpr": "datum.value == 0 ? '10\u2070' : datum.value == 2 ? '10\u00b2' : datum.value == 4 ? '10\u2074' : datum.value == 6 ? '10\u2076' : datum.value == 8 ? '10\u2078' : ''",
          "labelFontSize": 9.5, "labelColor": "#000000", "labelPadding": 3, "labelOverlap": false, "labelFlush": false, "tickColor": "#000000", "tickWidth": 1, "tickSize": 5}},
        "y": {"field": "count", "type": "quantitative", "scale": {"domain": [-0.033, 5.107], "nice": false, "zero": false}, "axis": null},
        "y2": {"datum": 0}}},
      {"data": {"name": "hist2"}, "transform": [{"filter": "datum.sample == 'Control'"}],
       "mark": {"type": "area", "interpolate": "monotone", "fill": "#41D2F8", "stroke": "#0FC0F0", "strokeWidth": 1.2},
       "encoding": {
        "x": {"field": "log_fl", "type": "quantitative", "scale": {"domain": [-0.386, 8.41], "nice": false, "zero": false}},
        "y": {"field": "count", "type": "quantitative", "scale": {"domain": [-1.033, 4.107], "nice": false, "zero": false}, "axis": null},
        "y2": {"datum": 0}}},
      {"data": {"name": "hist2"}, "transform": [{"filter": "datum.sample == 'Baicalein'"}],
       "mark": {"type": "area", "interpolate": "monotone", "fill": "#FBC08A", "stroke": "#F8A048", "strokeWidth": 1.2},
       "encoding": {
        "x": {"field": "log_fl", "type": "quantitative", "scale": {"domain": [-0.386, 8.41], "nice": false, "zero": false}},
        "y": {"field": "count", "type": "quantitative", "scale": {"domain": [-2.033, 3.107], "nice": false, "zero": false}, "axis": null},
        "y2": {"datum": 0}}},
      {"data": {"name": "hist2"}, "transform": [{"filter": "datum.sample == 'Almonertinib'"}],
       "mark": {"type": "area", "interpolate": "monotone", "fill": "#97EE8C", "stroke": "#2ED829", "strokeWidth": 1.2},
       "encoding": {
        "x": {"field": "log_fl", "type": "quantitative", "scale": {"domain": [-0.386, 8.41], "nice": false, "zero": false}},
        "y": {"field": "count", "type": "quantitative", "scale": {"domain": [-3.033, 2.107], "nice": false, "zero": false}, "axis": null},
        "y2": {"datum": 0}}},
      {"data": {"name": "hist2"}, "transform": [{"filter": "datum.sample == 'Almonertinib+Baicalein'"}],
       "mark": {"type": "area", "interpolate": "monotone", "fill": "#86A474", "stroke": "#3D6B26", "strokeWidth": 1.2},
       "encoding": {
        "x": {"field": "log_fl", "type": "quantitative", "scale": {"domain": [-0.386, 8.41], "nice": false, "zero": false}},
        "y": {"field": "count", "type": "quantitative", "scale": {"domain": [-4.033, 1.107], "nice": false, "zero": false}, "axis": null},
        "y2": {"datum": 0}}},
      {"data": {"name": "hist2_labels"},
       "mark": {"type": "text", "align": "left", "baseline": "middle", "fontSize": 16, "font": "Liberation Sans", "color": "#000000"},
       "encoding": {
        "x": {"field": "log_fl", "type": "quantitative", "scale": {"domain": [-0.386, 8.41], "nice": false, "zero": false}},
        "y": {"field": "row", "type": "quantitative", "scale": {"domain": [-0.033, 5.107], "nice": false, "zero": false}, "axis": null},
        "text": {"field": "label"}}}
     ]},
    {"vconcat": [
     {"width": 133, "height": 192,
      "title": {"text": "H1975/AR", "fontSize": 9, "fontWeight": "normal", "color": "#000000", "anchor": "middle", "baseline": "alphabetic", "offset": -48.5, "font": "Liberation Sans"},
      "layer": [
       {"data": {"name": "ros2"}, "mark": {"type": "rule", "color": "#000000", "strokeWidth": 1},
        "encoding": {
         "x": {"field": "pos", "type": "quantitative", "scale": {"domain": [0.332, 5.652], "nice": false, "zero": false},
          "axis": {"title": null, "values": [1, 2, 3, 4, 5], "labels": false, "tickSize": 4, "tickColor": "#000000", "domainColor": "#000000"}},
         "y": {"field": "mean", "type": "quantitative", "scale": {"domain": [0, 4.327], "nice": false, "zero": false},
          "axis": {"title": ["ROS level", "(Relative fluorescence intensity)"], "titleFont": "Liberation Serif", "titleFontSize": 10, "titleFontWeight": "normal", "titleColor": "#000000", "titleLineHeight": 12, "titleY": 123, "titlePadding": 3,
           "values": [0, 1, 2, 3], "labelFont": "Liberation Serif", "labelFontSize": 10, "labelColor": "#000000", "labelPadding": 2, "tickSize": 4, "tickColor": "#000000", "domainColor": "#000000", "domainDash": [133.3, 200]}},
         "y2": {"field": "upper"}}},
       {"data": {"name": "ros2"}, "mark": {"type": "tick", "orient": "horizontal", "size": 11, "thickness": 1.2, "color": "#000000", "opacity": 1},
        "encoding": {
         "x": {"field": "pos", "type": "quantitative", "scale": {"domain": [0.332, 5.652], "nice": false, "zero": false}},
         "y": {"field": "upper", "type": "quantitative", "scale": {"domain": [0, 4.327], "nice": false, "zero": false}}}},
       {"data": {"name": "ros2"}, "mark": {"type": "bar", "size": 16.6, "stroke": "#000000", "strokeWidth": 1.1, "orient": "vertical"},
        "encoding": {
         "x": {"field": "pos", "type": "quantitative", "scale": {"domain": [0.332, 5.652], "nice": false, "zero": false}},
         "y": {"field": "mean", "type": "quantitative", "scale": {"domain": [0, 4.327], "nice": false, "zero": false}},
         "y2": {"datum": 0},
         "fill": {"field": "pos", "type": "nominal", "scale": {"range": ["#FFFFFF", "#2B2B2B", "#D4D4D4", "#D4D4D4", "#5E5E5E"]}, "legend": null}}},
       {"data": {"name": "ros2"}, "mark": {"type": "text", "fontSize": 8, "baseline": "alphabetic", "dy": 2, "color": "#000000"},
        "encoding": {
         "x": {"field": "pos", "type": "quantitative", "scale": {"domain": [0.332, 5.652], "nice": false, "zero": false}},
         "y": {"field": "upper", "type": "quantitative", "scale": {"domain": [0, 4.327], "nice": false, "zero": false}},
         "text": {"field": "sig"}}},
       {"data": {"name": "ros2_brackets"}, "mark": {"type": "rule", "color": "#000000", "strokeWidth": 1},
        "encoding": {
         "x": {"field": "from", "type": "quantitative", "scale": {"domain": [0.332, 5.652], "nice": false, "zero": false}},
         "x2": {"field": "to"},
         "y": {"field": "y", "type": "quantitative", "scale": {"domain": [0, 4.327], "nice": false, "zero": false}}}},
       {"data": {"name": "ros2_brackets"}, "mark": {"type": "rule", "color": "#000000", "strokeWidth": 1},
        "encoding": {
         "x": {"field": "from", "type": "quantitative", "scale": {"domain": [0.332, 5.652], "nice": false, "zero": false}},
         "y": {"field": "y", "type": "quantitative", "scale": {"domain": [0, 4.327], "nice": false, "zero": false}},
         "y2": {"field": "drop"}}},
       {"data": {"name": "ros2_brackets"}, "mark": {"type": "rule", "color": "#000000", "strokeWidth": 1},
        "encoding": {
         "x": {"field": "to", "type": "quantitative", "scale": {"domain": [0.332, 5.652], "nice": false, "zero": false}},
         "y": {"field": "y", "type": "quantitative", "scale": {"domain": [0, 4.327], "nice": false, "zero": false}},
         "y2": {"field": "drop"}}},
       {"data": {"name": "ros2_brackets"}, "mark": {"type": "text", "fontSize": 7, "baseline": "alphabetic", "dy": -1, "color": "#000000"},
        "encoding": {
         "x": {"field": "mid", "type": "quantitative", "scale": {"domain": [0.332, 5.652], "nice": false, "zero": false}},
         "y": {"field": "y", "type": "quantitative", "scale": {"domain": [0, 4.327], "nice": false, "zero": false}},
         "text": {"field": "label"}}}
      ]},
     {"width": 133, "height": 32.4,
      "data": {"name": "ros2"},
      "transform": [{"fold": ["Almonertinib", "Baicalein", "DCFH"], "as": ["factor", "sign"]}],
      "mark": {"type": "text", "fontSize": 11, "font": "Liberation Sans", "color": "#000000"},
      "encoding": {
       "x": {"field": "pos", "type": "quantitative", "scale": {"domain": [0.332, 5.652], "nice": false, "zero": false}, "axis": null},
       "y": {"field": "factor", "type": "nominal", "sort": ["Almonertinib", "Baicalein", "DCFH"], "scale": {"type": "point", "padding": 0.5},
        "axis": {"title": null, "domain": false, "ticks": false, "labelFontSize": 10, "labelColor": "#000000", "labelPadding": 8, "labelFont": "Liberation Sans"}},
       "text": {"field": "sign"}}}
    ], "spacing": 3}
   ], "spacing": 17.4}
  ], "spacing": 29.7}
 ]
}
